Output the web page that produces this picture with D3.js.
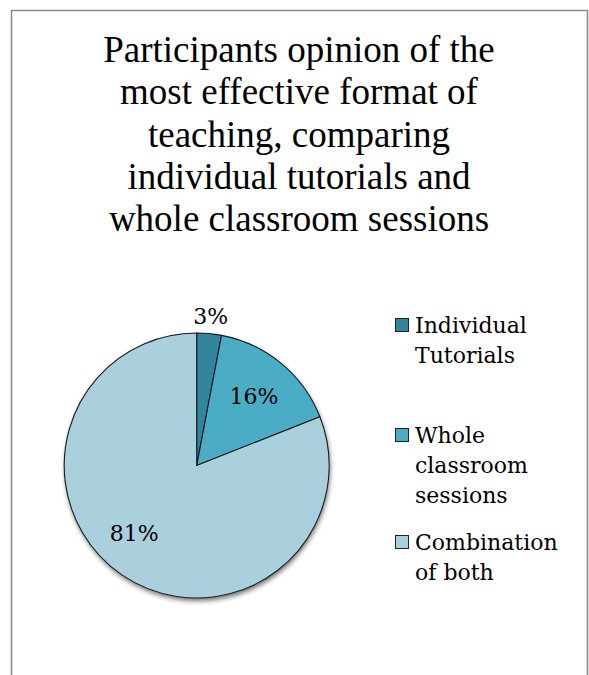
<!DOCTYPE html>
<html>
<head>
<meta charset="utf-8">
<script src="https://cdn.jsdelivr.net/npm/d3@7"></script>
<style>
  html, body { margin: 0; padding: 0; background: #fff; }
  svg { display: block; }
</style>
</head>
<body>
<svg id="chart" width="589" height="675"></svg>
<script>
// Survey answers: preferred teaching format
const categories = ["Individual Tutorials", "Whole classroom sessions", "Combination of both"];
const values = [3, 16, 81];
const legendLines = [["Individual", "Tutorials"], ["Whole", "classroom", "sessions"], ["Combination", "of both"]];
const titleLines = [
  "Participants opinion of the",
  "most effective format of",
  "teaching, comparing",
  "individual tutorials and",
  "whole classroom sessions"
];
const colors = ["#31859C", "#4BACC6", "#AACFDD"];

const svg = d3.select("#chart");
const W = 589, H = 675;

// chart frame (open at the bottom edge of the page)
svg.append("path")
  .attr("d", `M11.5,${H + 2} V10.5 H587.5 V${H + 2}`)
  .attr("fill", "none")
  .attr("stroke", "#8a8a8a")
  .attr("stroke-width", 1.6);

// title
svg.append("text")
  .attr("text-anchor", "middle")
  .style("font-family", "'Liberation Serif', 'Times New Roman', serif")
  .attr("font-size", 37)
  .attr("fill", "#000")
  .selectAll("tspan")
  .data(titleLines)
  .join("tspan")
  .attr("x", 299)
  .attr("y", (d, i) => 62 + i * 42.3)
  .text(d => d);

// pie
const cx = 196.7, cy = 465.5, R = 132.5;
const total = d3.sum(values);
const pie = d3.pie().sort(null).value(d => d)(values);
const arc = d3.arc().innerRadius(0).outerRadius(R);

const defs = svg.append("defs");
const shadow = defs.append("filter").attr("id", "pieShadow")
  .attr("x", "-20%").attr("y", "-20%").attr("width", "140%").attr("height", "140%");
shadow.append("feGaussianBlur").attr("in", "SourceAlpha").attr("stdDeviation", 2.5).attr("result", "b");
shadow.append("feOffset").attr("in", "b").attr("dx", 1).attr("dy", 3).attr("result", "o");
shadow.append("feComponentTransfer").attr("in", "o").attr("result", "s")
  .append("feFuncA").attr("type", "linear").attr("slope", 0.55);
const merge = shadow.append("feMerge");
merge.append("feMergeNode").attr("in", "s");
merge.append("feMergeNode").attr("in", "SourceGraphic");

const g = svg.append("g").attr("transform", `translate(${cx},${cy})`);

g.append("circle").attr("r", R).attr("fill", colors[2]).attr("filter", "url(#pieShadow)");

g.selectAll("path.slice")
  .data(pie)
  .join("path")
  .attr("class", "slice")
  .attr("d", arc)
  .attr("fill", (d, i) => colors[i])
  .attr("stroke", "#1a1a1a")
  .attr("stroke-width", 1.1)
  .attr("stroke-linejoin", "round");

// percentage labels: small slices get their label outside the rim,
// the large slice's label sits a little further round toward the left
const innerLabel = d3.arc().innerRadius(90).outerRadius(90);
const outerLabel = d3.arc().innerRadius(150).outerRadius(150);
g.selectAll("text.pct")
  .data(pie)
  .join("text")
  .attr("class", "pct")
  .attr("transform", d => {
    const frac = d.value / total;
    let p;
    if (frac < 0.05) p = outerLabel.centroid(d);
    else if (frac > 0.5) {
      const a = (d.startAngle + d.endAngle) / 2 + 0.15;
      p = [92 * Math.sin(a), -92 * Math.cos(a)];
    } else p = innerLabel.centroid(d);
    return `translate(${p[0]},${p[1]})`;
  })
  .attr("text-anchor", "middle")
  .attr("dy", "0.36em")
  .style("font-family", "'DejaVu Serif', serif")
  .attr("font-size", 22)
  .attr("fill", "#000")
  .text(d => d.value + "%");

// legend
const legendY = [318, 428, 535];
const legend = svg.append("g");
categories.forEach((c, i) => {
  const item = legend.append("g").attr("transform", `translate(395,${legendY[i]})`);
  item.append("rect")
    .attr("x", 0.5).attr("y", 0.5)
    .attr("width", 13).attr("height", 13)
    .attr("fill", colors[i])
    .attr("stroke", "#222")
    .attr("stroke-width", 1);
  item.append("text")
    .style("font-family", "'DejaVu Serif', serif")
    .attr("font-size", 22)
    .attr("fill", "#000")
    .selectAll("tspan")
    .data(legendLines[i])
    .join("tspan")
    .attr("x", 20)
    .attr("y", (d, j) => 15 + j * 30)
    .text(d => d);
});
</script>
</body>
</html>
